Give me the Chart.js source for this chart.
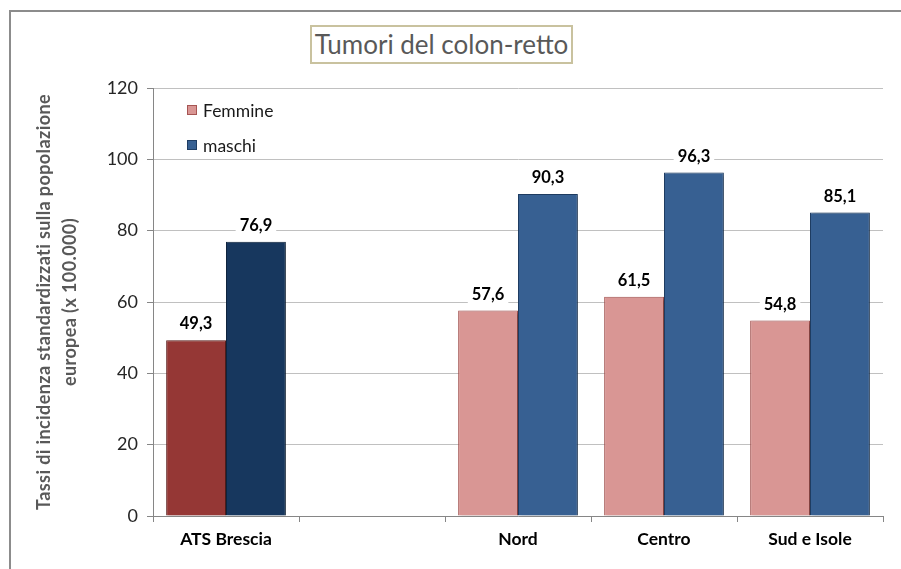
<!DOCTYPE html>
<html>
<head>
<meta charset="utf-8">
<script src="https://cdn.jsdelivr.net/npm/chart.js@4.4.1/dist/chart.umd.min.js"></script>
<style>
html, body { margin: 0; padding: 0; background: #fff; overflow: hidden; }
#wrap { position: relative; width: 901px; height: 569px; overflow: hidden; }
#frame { position: absolute; left: 9px; top: 10px; width: 950px; height: 650px; border: 2px solid #8c8c8c; }
#title {
    position: absolute; left: 310px; top: 25px; width: 259px; height: 35px;
    border: 2px solid #c9c29f; background: #fff;
    font: 26px Lato, sans-serif; color: #595959;
    text-align: center; line-height: 35px;
}
#chart { position: absolute; left: 0; top: 0; }
</style>
</head>
<body>
<div id="wrap">
    <div id="frame"></div>
    <canvas id="chart" width="901" height="569"></canvas>
    <div id="title">Tumori del colon-retto</div>
</div>
<script>
// Data
const categories = ['ATS Brescia', '', 'Nord', 'Centro', 'Sud e Isole'];
const femmine = [49.3, null, 57.6, 61.5, 54.8];
const maschi = [76.9, null, 90.3, 96.3, 85.1];
const seriesNames = ['Femmine', 'maschi'];
const yTitle = ['Tassi di incidenza standardizzati sulla popolazione', 'europea (x 100.000)'];
const yMax = 120;
const yStep = 20;

// ATS Brescia bars are darker than the other areas
const femmineFill = ['#953735', '#d99694', '#d99694', '#d99694', '#d99694'];
const femmineEdge = ['#632523', '#a65553', '#a65553', '#a65553', '#a65553'];
const maschiFill = ['#17375e', '#376092', '#376092', '#376092', '#376092'];
const maschiEdge = ['#0f243e', '#1f3d63', '#1f3d63', '#1f3d63', '#1f3d63'];
const legendFill = ['#d99694', '#376092'];
const legendEdge = ['#a65553', '#1f3d63'];

Chart.defaults.font.family = 'Lato, sans-serif';

// soft shadow on the bars, like the office chart
const barShadow = {
    id: 'barShadow',
    beforeDatasetsDraw(chart) {
        const ctx = chart.ctx;
        ctx.save();
        ctx.shadowColor = 'rgba(0,0,0,0.28)';
        ctx.shadowBlur = 3;
        ctx.shadowOffsetX = 2;
        ctx.shadowOffsetY = 1;
    },
    afterDatasetsDraw(chart) {
        chart.ctx.restore();
    }
};

// value labels on a white box above each bar
const valueLabels = {
    id: 'valueLabels',
    afterDraw(chart) {
        const ctx = chart.ctx;
        ctx.save();
        ctx.font = 'bold 16.5px Lato, sans-serif';
        ctx.textAlign = 'center';
        ctx.textBaseline = 'middle';
        chart.data.datasets.forEach((ds, di) => {
            const meta = chart.getDatasetMeta(di);
            meta.data.forEach((bar, i) => {
                const v = ds.data[i];
                if (v === null) return;
                const txt = v.toFixed(1).replace('.', ',');
                const w = ctx.measureText(txt).width;
                const y = bar.y - 17;
                ctx.fillStyle = '#fff';
                ctx.fillRect(bar.x - w / 2 - 4, y - 10, w + 8, 20);
                ctx.fillStyle = '#000';
                ctx.fillText(txt, bar.x, y + 1);
            });
        });
        ctx.restore();
    }
};

// legend inside the plot, top left
const innerLegend = {
    id: 'innerLegend',
    afterDraw(chart) {
        const ctx = chart.ctx;
        const x = chart.chartArea.left + 34;
        ctx.save();
        ctx.font = '17.5px Lato, sans-serif';
        ctx.textBaseline = 'middle';
        seriesNames.forEach((name, i) => {
            const y = 110 + i * 35;
            ctx.fillStyle = legendFill[i];
            ctx.fillRect(x, y - 5, 10, 10);
            ctx.strokeStyle = legendEdge[i];
            ctx.lineWidth = 1;
            ctx.strokeRect(x + 0.5, y - 4.5, 9, 9);
            ctx.fillStyle = '#1a1a1a';
            ctx.fillText(name, x + 16, y + 1);
        });
        ctx.restore();
    }
};

// rotated two line axis title
const axisTitle = {
    id: 'axisTitle',
    afterDraw(chart) {
        const ctx = chart.ctx;
        const cy = (chart.chartArea.top + chart.chartArea.bottom) / 2;
        ctx.save();
        ctx.font = 'bold 18px Lato, sans-serif';
        ctx.letterSpacing = '0.4px';
        ctx.fillStyle = '#595959';
        ctx.textAlign = 'center';
        ctx.textBaseline = 'middle';
        yTitle.forEach((line, i) => {
            ctx.save();
            ctx.translate(44 + i * 26, cy);
            ctx.rotate(-Math.PI / 2);
            ctx.fillText(line, 0, 0);
            ctx.restore();
        });
        ctx.restore();
    }
};

new Chart(document.getElementById('chart'), {
    type: 'bar',
    data: {
        labels: categories,
        datasets: [{
            label: seriesNames[0],
            data: femmine,
            backgroundColor: femmineFill,
            borderColor: femmineEdge,
            borderWidth: 1
        }, {
            label: seriesNames[1],
            data: maschi,
            backgroundColor: maschiFill,
            borderColor: maschiEdge,
            borderWidth: 1
        }]
    },
    options: {
        responsive: false,
        animation: false,
        layout: { padding: { top: 88, right: 18, bottom: 0, left: 0 } },
        datasets: { bar: { categoryPercentage: 0.82, barPercentage: 1 } },
        plugins: {
            legend: { display: false },
            title: { display: false },
            tooltip: { enabled: false }
        },
        scales: {
            x: {
                offset: true,
                grid: { offset: true, drawOnChartArea: false, color: '#868686', tickLength: 6 },
                border: { color: '#868686' },
                ticks: { color: '#000', font: { size: 17.5, weight: 'bold' }, padding: 7 },
                afterFit(scale) { scale.height = 53; }
            },
            y: {
                min: 0,
                max: yMax,
                ticks: { stepSize: yStep, color: '#262626', font: { size: 18 }, padding: 9 },
                grid: { color: '#c0c0c0', tickColor: '#868686', tickLength: 6 },
                border: { color: '#868686' },
                afterFit(scale) { scale.width = 153; }
            }
        }
    },
    plugins: [barShadow, valueLabels, innerLegend, axisTitle]
});
</script>
</body>
</html>
